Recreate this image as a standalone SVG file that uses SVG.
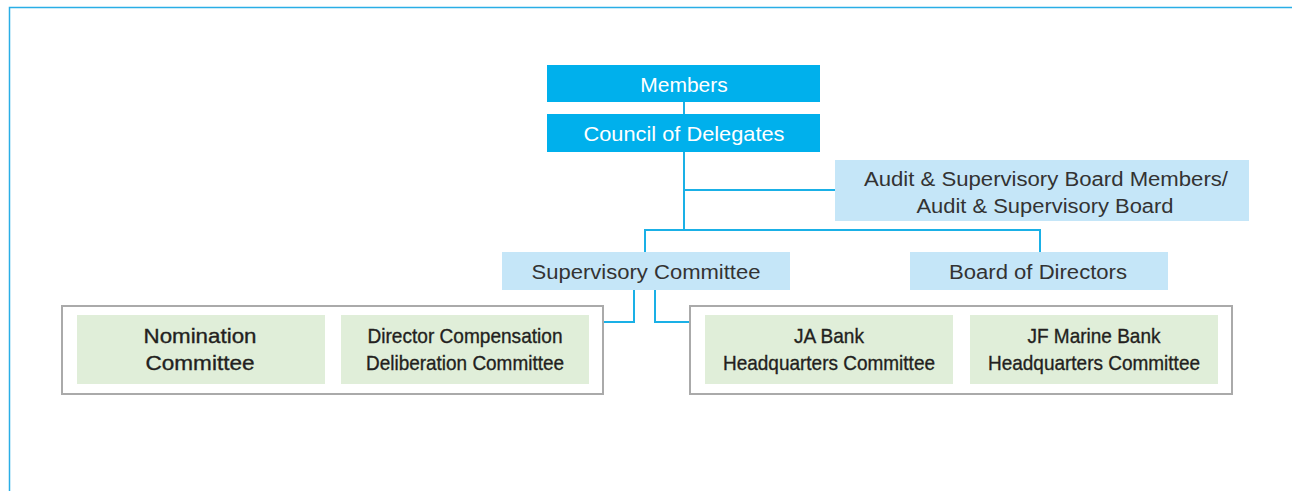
<svg xmlns="http://www.w3.org/2000/svg" width="1292" height="491" viewBox="0 0 1292 491">
<style>
.frame{fill:none;stroke:#2aaee6;stroke-width:1.5}
.top{fill:#00b0ec}
.lb{fill:#c5e6f8}
.gr{fill:#e0eed9}
.grp{fill:#fff;stroke:#aaaaaa;stroke-width:2}
.con{fill:none;stroke:#1ab0e6;stroke-width:2}
.tw{font-family:"Liberation Sans",Arial,sans-serif;font-size:21px;fill:#fff;text-anchor:middle}
.td{font-family:"Liberation Sans",Arial,sans-serif;font-size:20px;fill:#333;text-anchor:middle}
.tg{font-family:"Liberation Sans",Arial,sans-serif;font-size:21px;fill:#231f20;stroke:#231f20;stroke-width:0.35;text-anchor:middle}
</style>
<rect width="1292" height="491" fill="#fff"/>
<path class="frame" d="M9.5,491 V7.5 H1292"/>
<g id="connectors">
<path class="con" d="M684,102 V114"/>
<path class="con" d="M684,151 V230"/>
<path class="con" d="M684,190 H835"/>
<path class="con" d="M645,252 V230 H1040 V252"/>
<path class="con" d="M634,290 V322 H603"/>
<path class="con" d="M655,290 V322 H690"/>
</g>
<g id="members"><rect class="top" x="547" y="65" width="273" height="37"/><text class="tw" x="684" y="92">Members</text></g>
<g id="council"><rect class="top" x="547" y="114" width="273" height="38"/><text class="tw" x="684" y="141" textLength="201" lengthAdjust="spacingAndGlyphs">Council of Delegates</text></g>
<g id="audit"><rect class="lb" x="835" y="160" width="414" height="61"/><text class="td" x="1046" y="186" textLength="364" lengthAdjust="spacingAndGlyphs">Audit &amp; Supervisory Board Members/</text><text class="td" x="1045" y="213" textLength="257" lengthAdjust="spacingAndGlyphs">Audit &amp; Supervisory Board</text></g>
<g id="supervisory"><rect class="lb" x="502" y="252" width="288" height="38"/><text class="td" x="646" y="279" textLength="229" lengthAdjust="spacingAndGlyphs">Supervisory Committee</text></g>
<g id="board"><rect class="lb" x="910" y="252" width="258" height="38"/><text class="td" x="1038" y="279" textLength="178" lengthAdjust="spacingAndGlyphs">Board of Directors</text></g>
<g id="left-group"><rect class="grp" x="62" y="306" width="541" height="88"/></g>
<g id="right-group"><rect class="grp" x="690" y="306" width="542" height="88"/></g>
<g id="nomination"><rect class="gr" x="77" y="315" width="248" height="69"/><text class="tg" x="200" y="343" textLength="113" lengthAdjust="spacingAndGlyphs">Nomination</text><text class="tg" x="200" y="370" textLength="109" lengthAdjust="spacingAndGlyphs">Committee</text></g>
<g id="compensation"><rect class="gr" x="341" y="315" width="248" height="69"/><text class="tg" x="465" y="343" textLength="195" lengthAdjust="spacingAndGlyphs">Director Compensation</text><text class="tg" x="465" y="370" textLength="198" lengthAdjust="spacingAndGlyphs">Deliberation Committee</text></g>
<g id="jabank"><rect class="gr" x="705" y="315" width="248" height="69"/><text class="tg" x="829" y="343" textLength="70" lengthAdjust="spacingAndGlyphs">JA Bank</text><text class="tg" x="829" y="370" textLength="212" lengthAdjust="spacingAndGlyphs">Headquarters Committee</text></g>
<g id="jfmarine"><rect class="gr" x="970" y="315" width="248" height="69"/><text class="tg" x="1094" y="343" textLength="133" lengthAdjust="spacingAndGlyphs">JF Marine Bank</text><text class="tg" x="1094" y="370" textLength="212" lengthAdjust="spacingAndGlyphs">Headquarters Committee</text></g>
</svg>
